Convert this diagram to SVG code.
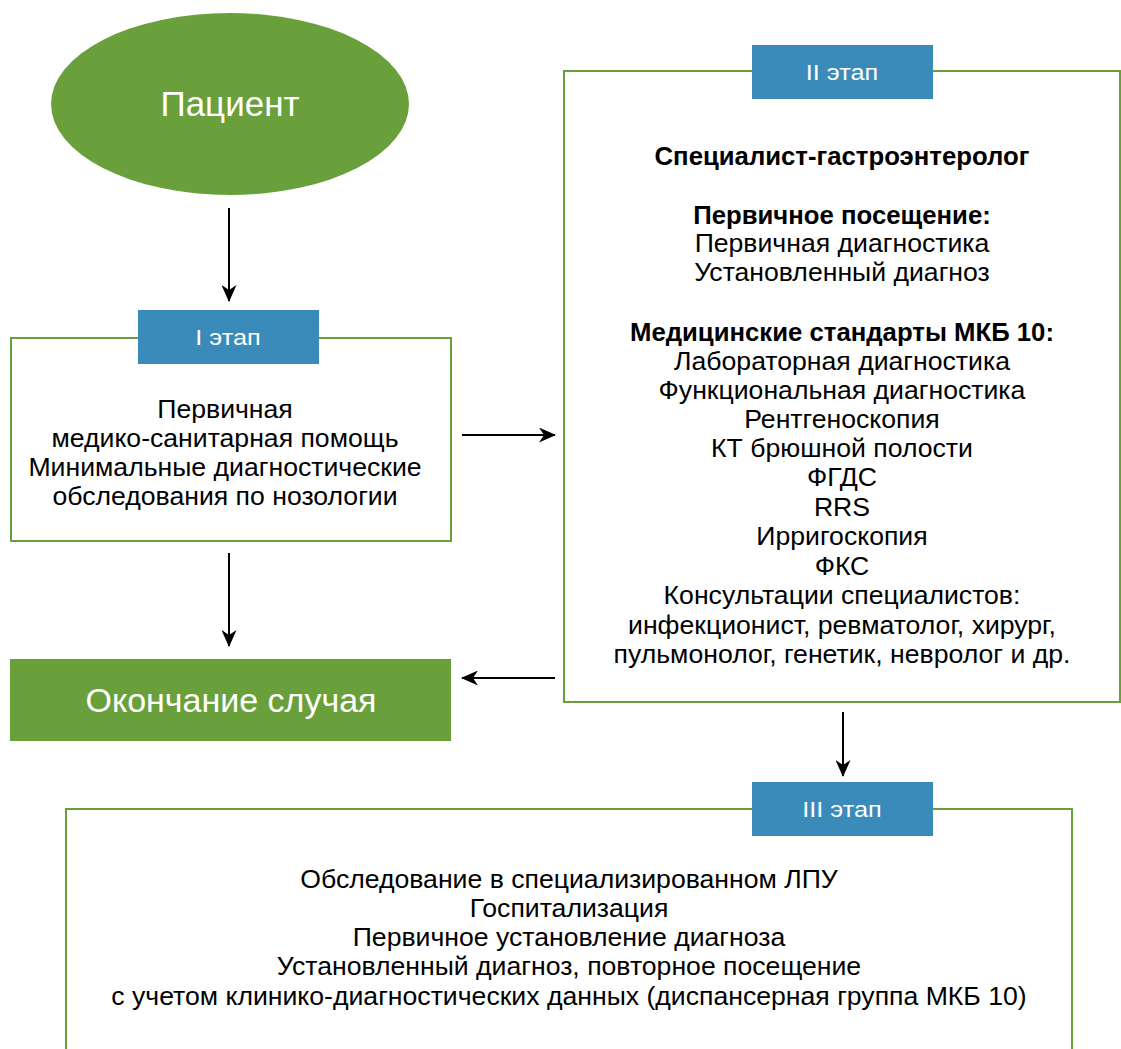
<svg xmlns="http://www.w3.org/2000/svg" width="1121" height="1049" viewBox="0 0 1121 1049">
<defs>
<marker id="arr" markerWidth="17" markerHeight="15" refX="16" refY="7.5" orient="auto" markerUnits="userSpaceOnUse">
<path d="M0,0 L17,7.5 L0,15 L5,7.5 Z" fill="#000"/>
</marker>
</defs>
<style>
text{font-family:"Liberation Sans",Arial,sans-serif}
.box{fill:#fff;stroke:#6aa03c;stroke-width:2}
.tab{fill:#3a8aba}
.tabt{font-size:22px;fill:#fff;text-anchor:middle}
.t{font-size:25px;fill:#000;text-anchor:middle}
.b{font-weight:bold}
.con{stroke:#000;stroke-width:2;fill:none;marker-end:url(#arr)}
</style>
<rect width="1121" height="1049" fill="#fff"/>
<g id="patient">
<ellipse cx="230" cy="104" rx="179" ry="91" fill="#6aa03c"/>
<text x="230" y="116" font-size="35" fill="#fff" text-anchor="middle">Пациент</text>
</g>
<g id="stage1">
<rect class="box" x="11" y="338" width="440" height="203"/>
<rect class="tab" x="138" y="310" width="181" height="54"/>
<text class="tabt" x="228" y="345" transform="matrix(1.15 0 0 1 -34.2 0)">I этап</text>
<g transform="matrix(1.065 0 0 1 -14.6 0)">
<text class="t" x="225" y="418">Первичная</text>
<text class="t" x="225" y="447">медико-санитарная помощь</text>
<text class="t" x="225" y="476">Минимальные диагностические</text>
<text class="t" x="225" y="505">обследования по нозологии</text>
</g>
</g>
<g id="end">
<rect x="10" y="659" width="441" height="82" fill="#6aa03c"/>
<text x="231" y="712" font-size="34" fill="#fff" text-anchor="middle">Окончание случая</text>
</g>
<g id="stage2">
<rect class="box" x="564" y="71" width="556" height="631"/>
<rect class="tab" x="752" y="45" width="181" height="54"/>
<text class="tabt" x="842" y="80" transform="matrix(1.15 0 0 1 -126.3 0)">II  этап</text>
<g transform="matrix(1.03 0 0 1 -25.26 0)">
<text class="t b" x="842" y="165">Специалист-гастроэнтеролог</text>
<text class="t b" x="842" y="224">Первичное посещение:</text>
<text class="t b" x="842" y="341">Медицинские стандарты МКБ 10:</text>
</g>
<g transform="matrix(1.065 0 0 1 -54.73 0)">
<text class="t" x="842" y="252">Первичная диагностика</text>
<text class="t" x="842" y="281">Установленный диагноз</text>
<text class="t" x="842" y="370">Лабораторная диагностика</text>
<text class="t" x="842" y="399">Функциональная диагностика</text>
<text class="t" x="842" y="428">Рентгеноскопия</text>
<text class="t" x="842" y="457">КТ брюшной полости</text>
<text class="t" x="842" y="486">ФГДС</text>
<text class="t" x="842" y="516">RRS</text>
<text class="t" x="842" y="545">Ирригоскопия</text>
<text class="t" x="842" y="575">ФКС</text>
<text class="t" x="842" y="604">Консультации специалистов:</text>
<text class="t" x="842" y="634">инфекционист, ревматолог, хирург,</text>
<text class="t" x="842" y="663">пульмонолог, генетик, невролог и др.</text>
</g>
</g>
<g id="stage3">
<rect class="box" x="66" y="809" width="1006" height="260"/>
<rect class="tab" x="752" y="782" width="181" height="54"/>
<text class="tabt" x="842" y="817" transform="matrix(1.15 0 0 1 -126.3 0)">III этап</text>
<g transform="matrix(1.065 0 0 1 -36.99 0)">
<text class="t" x="569" y="888">Обследование в специализированном ЛПУ</text>
<text class="t" x="569" y="917">Госпитализация</text>
<text class="t" x="569" y="946">Первичное установление диагноза</text>
<text class="t" x="569" y="975">Установленный диагноз, повторное посещение</text>
<text class="t" x="569" y="1005">с учетом клинико-диагностических данных (диспансерная группа МКБ 10)</text>
</g>
</g>
<g id="connectors">
<line class="con" x1="229" y1="208" x2="229" y2="301"/>
<line class="con" x1="229" y1="553" x2="229" y2="646"/>
<line class="con" x1="462" y1="435" x2="555" y2="435"/>
<line class="con" x1="555" y1="678" x2="462" y2="678"/>
<line class="con" x1="843" y1="712" x2="843" y2="776"/>
</g>
</svg>
